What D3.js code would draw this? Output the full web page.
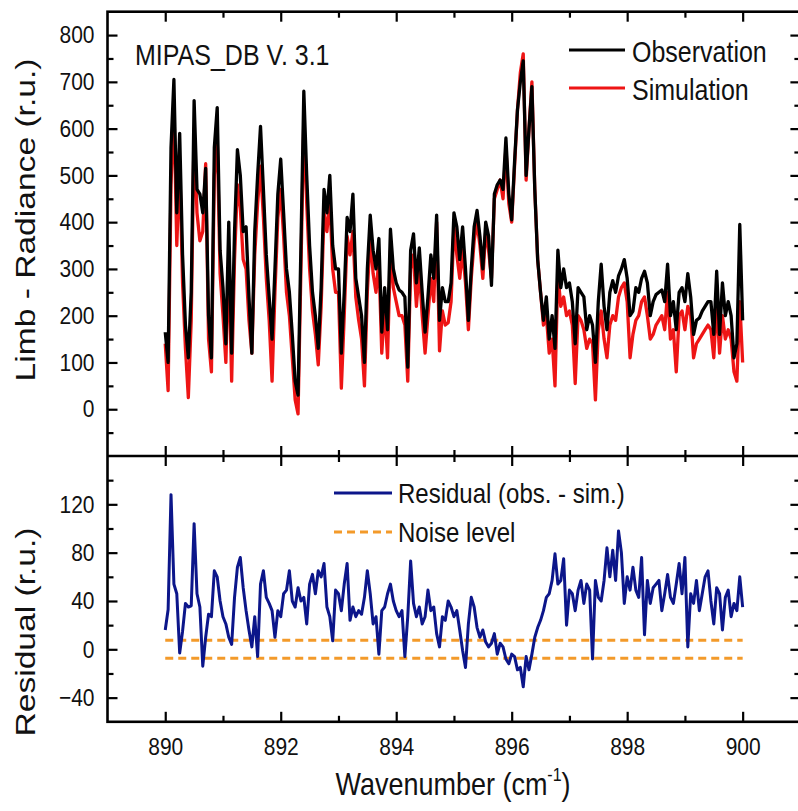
<!DOCTYPE html>
<html><head><meta charset="utf-8">
<script src="https://cdn.jsdelivr.net/npm/d3@7"></script>
<style>
body{margin:0;background:#fff}
svg{display:block}
text{font-family:"Liberation Sans",Arial,Helvetica,sans-serif;fill:#111}
</style>
</head><body>
<svg id="chart" width="798" height="811"></svg>
<script>
// ---------------- data ----------------
const startWavenumber = 890, stepWavenumber = 0.05;
const observation = [
165,100,560,705,420,590,330,180,110,250,
660,470,460,420,515,200,110,560,645,340,
260,140,400,120,380,555,500,380,390,240,
120,380,500,605,470,330,240,150,300,460,
535,420,300,250,160,60,30,350,680,500,
350,250,200,130,260,470,420,500,350,300,
300,120,250,410,380,460,280,240,200,100,
300,415,340,300,365,165,260,170,385,300,
270,255,250,240,90,340,375,270,345,250,
165,240,330,280,415,190,260,230,230,270,
420,390,320,390,300,190,300,390,425,370,
300,400,370,265,460,480,490,470,580,460,
405,530,640,700,745,500,600,690,470,320,
250,190,240,150,200,130,340,260,300,260,
270,230,140,260,250,240,170,200,180,100,
230,310,220,170,250,275,250,285,300,320,
280,200,210,260,250,280,295,270,200,230,
245,250,255,230,310,200,230,170,250,260,
230,290,240,160,190,195,210,220,230,230,
160,295,160,270,200,230,200,110,140,395,
190];
const simulation = [
140,40,480,650,350,530,270,130,25,190,
600,420,360,380,525,150,80,500,580,290,
200,100,330,60,320,480,430,320,300,190,
120,330,440,520,410,280,190,60,250,410,
470,370,250,200,110,20,-10,300,620,440,
300,210,160,95,220,420,380,450,300,250,
250,45,200,370,330,380,240,190,150,50,
250,370,290,250,320,120,220,110,340,260,
230,200,200,180,60,300,330,220,300,200,
120,200,280,230,400,125,210,180,185,230,
390,330,280,340,270,170,280,360,400,350,
280,380,340,280,450,470,490,450,560,440,
400,520,640,720,760,490,600,700,470,320,
250,180,200,120,150,50,290,220,240,200,
210,180,55,200,190,170,130,150,140,20,
170,210,150,110,180,200,190,240,260,270,
230,110,160,190,200,230,240,200,150,160,
180,190,200,170,250,150,170,80,200,210,
170,220,200,110,140,150,160,170,180,170,
110,230,120,200,150,170,150,80,60,230,
100];
const residual = [
16,33,128,54,46,-3,15,38,35,36,
104,46,35,-14,10,29,27,65,60,40,
27,21,10,4,43,68,76,51,32,16,
2,27,-6,54,65,43,38,32,10,32,
27,46,49,65,40,35,51,40,43,21,
54,62,46,65,60,71,35,27,7,49,
46,32,54,71,24,35,27,32,29,43,
65,46,21,27,-4,32,35,46,54,40,
32,27,32,-6,27,73,38,27,35,21,
27,49,32,35,13,2,27,24,40,35,
27,32,16,-1,-15,21,43,35,18,10,
16,6,2,5,13,-4,5,2,-8,-12,
-4,-6,-17,-15,-31,-6,-17,-4,10,18,
24,32,43,46,57,79,54,57,75,20,
49,46,32,49,57,38,54,49,-8,57,
43,40,57,84,60,82,57,98,80,38,
60,49,68,49,43,76,12,57,38,51,
54,57,32,46,62,43,38,54,71,46,
76,2,46,38,57,32,46,60,65,40,
21,51,46,16,43,49,27,38,32,60,
35];
const noiseLevels = [7.5, -7.5];
const noiseRange = [890, 900];
const xMajorTicks = [890, 892, 894, 896, 898, 900];
const xMinorTicks = [891, 893, 895, 897, 899];
const radianceMajorTicks = [0, 100, 200, 300, 400, 500, 600, 700, 800];
const radianceMinorTicks = [-50, 50, 150, 250, 350, 450, 550, 650, 750];
const residualMajorTicks = [-40, 0, 40, 80, 120];
const residualMinorTicks = [-20, 20, 60, 100, 140];

const wavenumbers = observation.map((_, i) => +(startWavenumber + i * stepWavenumber).toFixed(2));

// ---------------- layout ----------------
const L = 107.5, R = 800.4, T = 11.7, MID = 456, B = 721.8;
const svg = d3.select("#chart");
svg.append("rect").attr("width", 798).attr("height", 811).attr("fill", "#fff");

const x = d3.scaleLinear().domain([889, 901]).range([L, R]);
const yTop = d3.scaleLinear().domain([-100, 850]).range([MID, T]);
const yBot = d3.scaleLinear().domain([-60, 160]).range([B, MID]);

const MAJ = 10, MIN = 6, SY = 1.15;

function addAxis(axisFn, scale, values, size, tx, ty, labels, padding) {
  const ax = axisFn(scale).tickValues(values).tickSizeInner(-size).tickSizeOuter(0)
    .tickPadding(padding || 0);
  if (!labels) ax.tickFormat("");
  const g = svg.append("g").attr("transform", `translate(${tx},${ty})`).call(ax);
  g.select(".domain").remove();
  g.selectAll("line").attr("stroke", "#000").attr("stroke-width", 2.2);
  g.selectAll("text").attr("font-size", 21).attr("fill", "#111")
    .attr("font-family", '"Liberation Sans",Arial,sans-serif')
    .attr("transform", `scale(1,${SY})`);
  return g;
}

// top panel axes
addAxis(d3.axisLeft, yTop, radianceMajorTicks, MAJ, L, 0, true, 13);
addAxis(d3.axisLeft, yTop, radianceMinorTicks, MIN, L, 0, false);
addAxis(d3.axisRight, yTop, radianceMajorTicks, MAJ, R, 0, false);
addAxis(d3.axisRight, yTop, radianceMinorTicks, MIN, R, 0, false);
addAxis(d3.axisTop, x, xMajorTicks, MAJ, 0, T, false);
addAxis(d3.axisTop, x, xMinorTicks, MIN, 0, T, false);
addAxis(d3.axisBottom, x, xMajorTicks, MAJ, 0, MID, false);
addAxis(d3.axisBottom, x, xMinorTicks, MIN, 0, MID, false);
// bottom panel axes
addAxis(d3.axisLeft, yBot, residualMajorTicks, MAJ, L, 0, true, 13);
addAxis(d3.axisLeft, yBot, residualMinorTicks, MIN, L, 0, false);
addAxis(d3.axisRight, yBot, residualMajorTicks, MAJ, R, 0, false);
addAxis(d3.axisRight, yBot, residualMinorTicks, MIN, R, 0, false);
addAxis(d3.axisTop, x, xMajorTicks, MAJ, 0, MID, false);
addAxis(d3.axisTop, x, xMinorTicks, MIN, 0, MID, false);
addAxis(d3.axisBottom, x, xMajorTicks, MAJ, 0, B, true, 14);
addAxis(d3.axisBottom, x, xMinorTicks, MIN, 0, B, false);

// frames
svg.append("rect").attr("x", L).attr("y", T).attr("width", R - L).attr("height", B - T)
  .attr("fill", "none").attr("stroke", "#000").attr("stroke-width", 2.6);
svg.append("line").attr("x1", L).attr("x2", R).attr("y1", MID).attr("y2", MID)
  .attr("stroke", "#000").attr("stroke-width", 2.6);

// ---------------- marks ----------------
const simData = wavenumbers.map((w, i) => ({ w, v: simulation[i] }));
const obsData = wavenumbers.map((w, i) => ({ w, v: observation[i] }));
const resData = wavenumbers.map((w, i) => ({ w, v: residual[i] }));

const lineTop = d3.line().x(d => x(d.w)).y(d => yTop(d.v));
const lineBot = d3.line().x(d => x(d.w)).y(d => yBot(d.v));

svg.append("path").datum(simData).attr("d", lineTop).attr("fill", "none")
  .attr("stroke", "#ee1515").attr("stroke-width", 3.3).attr("stroke-linejoin", "round");
svg.append("path").datum(obsData).attr("d", lineTop).attr("fill", "none")
  .attr("stroke", "#000").attr("stroke-width", 3.3).attr("stroke-linejoin", "round");

noiseLevels.forEach(n => {
  svg.append("path").datum(noiseRange.map(w => ({ w, v: n }))).attr("d", lineBot)
    .attr("fill", "none").attr("stroke", "#f39a2a").attr("stroke-width", 3)
    .attr("stroke-dasharray", "8,5");
});
svg.append("path").datum(resData).attr("d", lineBot).attr("fill", "none")
  .attr("stroke", "#0c168a").attr("stroke-width", 3).attr("stroke-linejoin", "round");

// ---------------- text ----------------
function label(xp, yp, str, size, anchor) {
  return svg.append("text").attr("transform", `translate(${xp},${yp}) scale(1,${SY})`)
    .attr("font-size", size).attr("text-anchor", anchor || "start").text(str);
}
label(135, 65, "MIPAS_DB V. 3.1", 25);

// legend top
svg.append("line").attr("x1", 569).attr("x2", 625).attr("y1", 50).attr("y2", 50)
  .attr("stroke", "#000").attr("stroke-width", 3);
label(632, 62, "Observation", 25);
svg.append("line").attr("x1", 569).attr("x2", 625).attr("y1", 88).attr("y2", 88)
  .attr("stroke", "#ee1515").attr("stroke-width", 3);
label(632, 100, "Simulation", 25);

// legend bottom
svg.append("line").attr("x1", 334).attr("x2", 392).attr("y1", 493).attr("y2", 493)
  .attr("stroke", "#0c168a").attr("stroke-width", 3);
label(398, 503, "Residual (obs. - sim.)", 24);
svg.append("line").attr("x1", 334).attr("x2", 392).attr("y1", 532).attr("y2", 532)
  .attr("stroke", "#f39a2a").attr("stroke-width", 3).attr("stroke-dasharray", "8,5");
label(398, 542, "Noise level", 24);

// axis titles
svg.append("text").attr("transform", "translate(35,220) rotate(-90) scale(1.2,1)")
  .attr("text-anchor", "middle").attr("font-size", 28).text("Limb - Radiance (r.u.)");
svg.append("text").attr("transform", "translate(35,632) rotate(-90) scale(1.2,1)")
  .attr("text-anchor", "middle").attr("font-size", 28).text("Residual (r.u.)");

const xt = svg.append("text").attr("transform", `translate(453,795) scale(1,${SY})`)
  .attr("text-anchor", "middle").attr("font-size", 27);
xt.append("tspan").text("Wavenumber (cm");
xt.append("tspan").attr("font-size", 16).attr("dy", -12).text("-1");
xt.append("tspan").attr("dy", 12).text(")");
</script>
</body></html>
